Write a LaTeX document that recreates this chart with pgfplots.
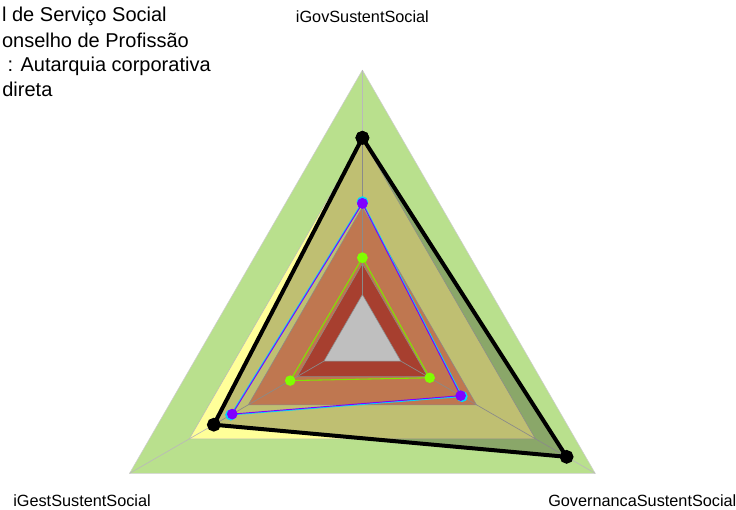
\documentclass[border=0pt]{standalone}
\usepackage{fontspec}
\setmainfont{Liberation Sans}
\usepackage{pgfplots}
\pgfplotsset{compat=1.18}
\usepgfplotslibrary{polar}

\definecolor{bandgreen}{RGB}{185,224,141}
\definecolor{bandyellow}{RGB}{255,255,153}
\definecolor{bandorange}{RGB}{255,160,107}
\definecolor{bandred}{RGB}{224,85,64}
\definecolor{sercyan}{RGB}{0,215,255}
\definecolor{serpurple}{RGB}{128,0,255}
\definecolor{sergreen}{RGB}{128,255,0}
\definecolor{spoke}{RGB}{185,185,185}

\begin{document}
\begin{tikzpicture}
\useasboundingbox (0pt,0pt) rectangle (552pt,382.5pt);
\clip (0pt,0pt) rectangle (552pt,382.5pt);
\begin{polaraxis}[
    at={(271.8pt,128.3pt)}, anchor=center,
    width=403.35pt, height=403.35pt, scale only axis,
    ymin=0, ymax=1,
    hide axis, grid=none, xtick=\empty, ytick=\empty,
    clip=false,
]
% background bands
\addplot[draw=spoke!70, line width=0.4pt, fill=bandgreen]  coordinates {(90,1) (210,1) (330,1) (90,1)};
\addplot[draw=spoke, line width=0.4pt, fill=bandyellow] coordinates {(90,0.743) (210,0.743) (330,0.743) (90,0.743)};
\addplot[draw=spoke, line width=0.4pt, fill=bandorange] coordinates {(90,0.49) (210,0.49) (330,0.49) (90,0.49)};
\addplot[draw=spoke, line width=0.4pt, fill=bandred]    coordinates {(90,0.28) (210,0.28) (330,0.28) (90,0.28)};
\addplot[draw=spoke, line width=0.4pt, fill=white]      coordinates {(90,0.165) (210,0.165) (330,0.165) (90,0.165)};
% spokes
\addplot[spoke, line width=0.5pt] coordinates {(90,0.165) (90,1)};
\addplot[spoke, line width=0.5pt] coordinates {(210,0.165) (210,1)};
\addplot[spoke, line width=0.5pt] coordinates {(330,0.165) (330,1)};
% series
\addplot[black, line width=3pt, fill=black, fill opacity=0.25, draw opacity=1,
    mark=*, mark size=3.6pt, mark options={fill=black, fill opacity=1}]
    coordinates {(90,0.748) (210,0.638) (330,0.877) (90,0.748)};
\addplot[sercyan, line width=0.8pt, mark=*, mark size=3.8pt, mark options={fill=sercyan}]
    coordinates {(90,0.509) (210,0.565) (330,0.428) (90,0.509)};
\addplot[serpurple, line width=0.7pt, mark=*, mark size=3.6pt, mark options={fill=serpurple}]
    coordinates {(90,0.504) (210,0.559) (330,0.422) (90,0.504)};
\addplot[sergreen!80!olive, line width=0.8pt, mark=*, mark size=3.5pt, mark options={draw=sergreen, fill=sergreen}]
    coordinates {(90,0.302) (210,0.310) (330,0.289) (90,0.302)};
% axis names
\node[font=\fontsize{12.2}{14}\selectfont] at (axis cs:90,1.197) {iGovSustentSocial};
\node[font=\fontsize{12.2}{14}\selectfont] at (axis cs:210,1.204) {iGestSustentSocial};
\node[font=\fontsize{12.2}{14}\selectfont] at (axis cs:330,1.202) {GovernancaSustentSocial};
\end{polaraxis}
% title, cut at the left edge
\node[anchor=base east, inner sep=0, font=\fontsize{15}{18}\selectfont] at (125.2pt,366pt) {l de Serviço Social};
\node[anchor=base east, inner sep=0, font=\fontsize{15}{18}\selectfont] at (141.8pt,347.2pt) {onselho de Profissão};
\node[anchor=base east, inner sep=0, font=\fontsize{15}{18}\selectfont] at (158.2pt,328.5pt) {: Autarquia corporativa};
\node[anchor=base east, inner sep=0, font=\fontsize{15}{18}\selectfont] at (39.5pt,309.8pt) {direta};
\end{tikzpicture}
\end{document}
